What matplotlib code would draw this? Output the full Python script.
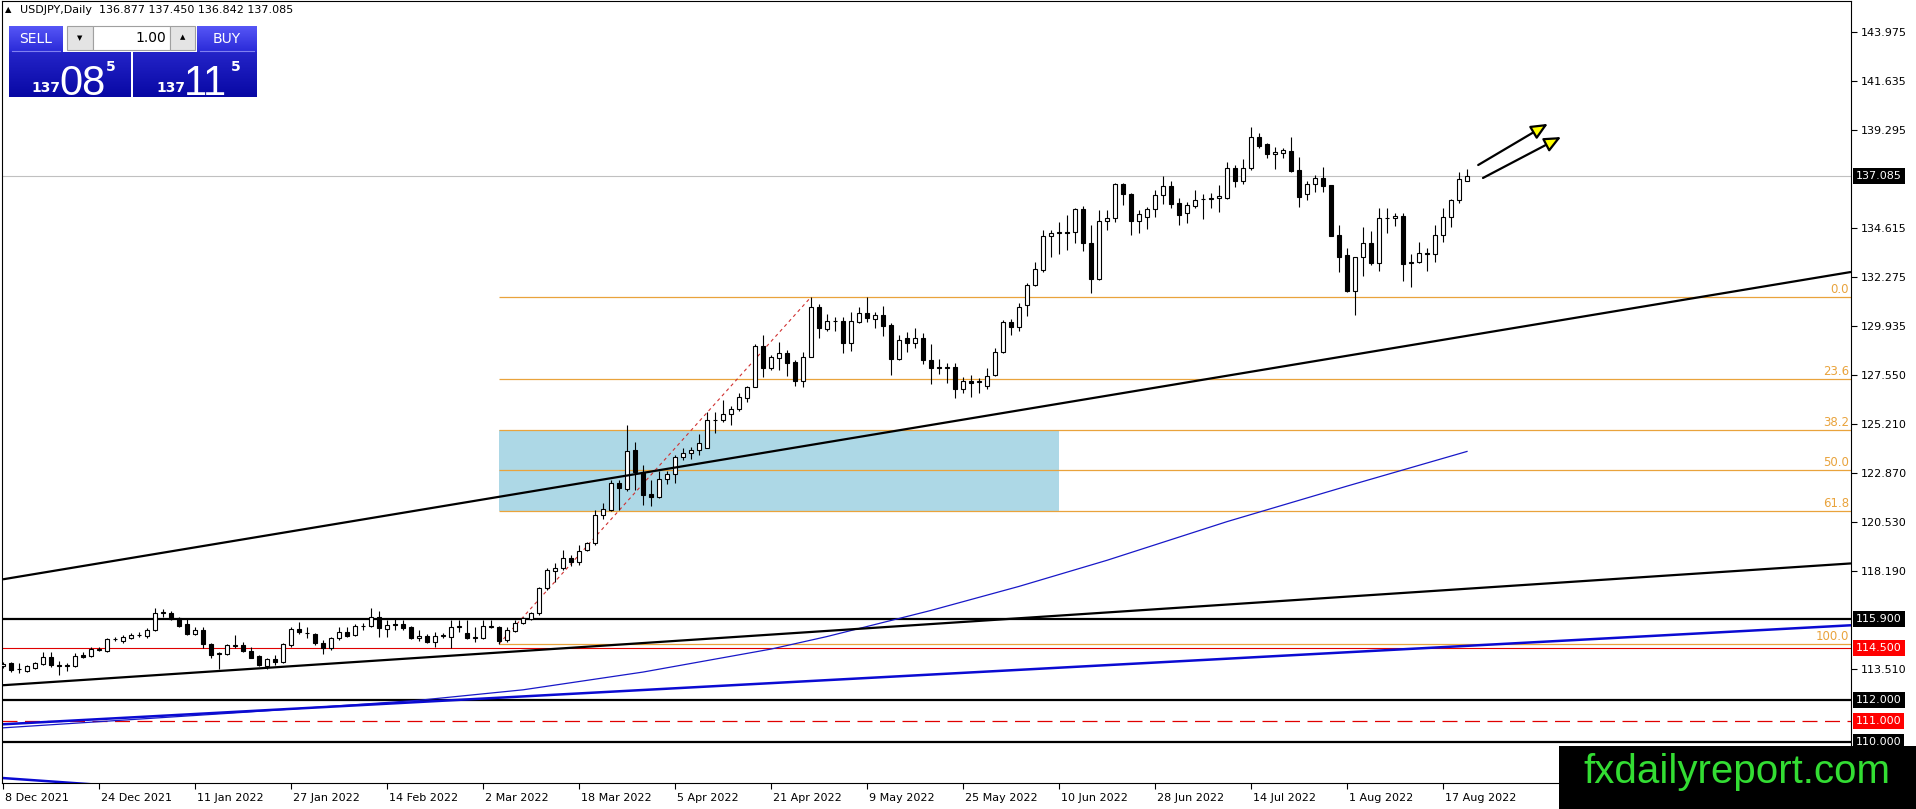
import matplotlib
matplotlib.use("Agg")
import matplotlib.pyplot as plt
import numpy as np
import pandas as pd
from matplotlib.patches import Rectangle, FancyArrowPatch
from matplotlib.transforms import blended_transform_factory, offset_copy, ScaledTranslation
from matplotlib.colors import LinearSegmentedColormap

# ---------------- data ----------------
symbol = "USDJPY,Daily"
start_date = "2021-12-08"

opens = [113.64, 113.77, 113.48, 113.40, 113.56, 113.73, 114.09, 113.69, 113.66, 113.64,
         114.17, 114.13, 114.41, 114.37, 114.92, 114.84, 115.00, 115.12, 115.09, 115.36,
         116.18, 116.16, 115.92, 115.65, 115.17, 115.36, 114.68, 114.20, 114.20, 114.61,
         114.64, 114.36, 114.13, 113.66, 113.97, 113.85, 114.64, 115.41, 115.22, 115.16,
         114.72, 114.49, 115.00, 115.25, 115.12, 115.57, 115.57, 116.00, 115.39, 115.63,
         115.63, 115.52, 114.96, 115.09, 114.77, 115.09, 115.04, 115.52, 115.20, 114.99,
         114.96, 115.52, 115.52, 114.88, 115.33, 115.68, 115.87, 116.16, 117.36, 118.20,
         118.32, 118.83, 118.63, 119.19, 119.51, 120.87, 121.11, 122.42, 122.10, 123.98,
         122.94, 121.86, 121.71, 122.58, 122.83, 123.63, 123.82, 124.00, 124.06, 125.42,
         125.42, 125.69, 125.93, 126.45, 127.01, 128.96, 127.89, 128.37, 128.61, 128.21,
         127.30, 128.45, 130.81, 129.75, 130.17, 130.14, 129.09, 130.12, 130.52, 130.27,
         130.44, 129.96, 128.32, 129.33, 129.09, 129.33, 128.29, 127.93, 127.90, 127.93,
         126.88, 127.30, 127.25, 127.04, 127.57, 128.69, 130.12, 129.88, 130.90, 131.88,
         132.60, 134.24, 134.38, 134.40, 134.43, 135.50, 133.87, 132.15, 134.94, 135.07,
         136.71, 136.25, 134.96, 135.15, 135.50, 136.17, 136.62, 135.79, 135.34, 135.66,
         135.98, 136.00, 136.03, 136.03, 137.46, 136.87, 137.46, 138.98, 138.61, 138.13,
         138.21, 138.29, 137.38, 136.23, 136.71, 136.98, 136.67, 134.27, 133.32, 131.61,
         133.20, 133.87, 132.95, 135.07, 135.07, 135.18, 132.92, 132.99, 133.43, 133.36,
         134.27, 135.12, 135.95, 136.877]
highs = [113.85, 113.85, 113.77, 113.69, 113.85, 114.29, 114.29, 113.88, 113.77, 114.25,
         114.33, 114.57, 114.57, 115.00, 115.04, 115.12, 115.20, 115.25, 115.44, 116.40,
         116.35, 116.27, 115.97, 115.89, 115.52, 115.52, 114.72, 114.29, 114.68, 115.12,
         114.80, 114.57, 114.17, 114.01, 114.17, 114.72, 115.52, 115.73, 115.52, 115.20,
         114.88, 115.04, 115.49, 115.52, 115.63, 115.68, 116.40, 116.27, 115.84, 115.89,
         115.84, 115.57, 115.36, 115.17, 115.28, 115.20, 115.84, 115.84, 115.84, 115.52,
         115.84, 115.84, 115.57, 115.52, 115.84, 116.00, 116.24, 117.44, 118.32, 118.55,
         119.19, 118.95, 119.43, 119.59, 121.11, 121.46, 122.54, 122.54, 125.18, 124.35,
         123.26, 122.54, 122.99, 122.99, 123.74, 124.06, 124.14, 124.75, 125.82, 125.82,
         126.37, 126.09, 126.72, 127.04, 129.05, 129.48, 128.53, 129.17, 128.77, 128.29,
         128.69, 131.30, 130.97, 130.49, 130.36, 130.36, 130.57, 130.84, 131.30, 130.60,
         130.87, 130.04, 129.48, 129.64, 129.80, 129.56, 129.05, 128.32, 128.16, 128.13,
         127.49, 127.57, 127.41, 127.89, 128.88, 130.20, 130.23, 131.00, 131.99, 133.00,
         134.51, 134.51, 134.91, 135.23, 135.55, 135.66, 134.75, 135.47, 135.47, 136.78,
         136.78, 136.27, 135.47, 135.63, 136.43, 137.07, 136.87, 136.03, 135.87, 136.43,
         136.23, 136.27, 136.67, 137.78, 137.62, 137.89, 139.43, 139.17, 138.66, 138.50,
         138.42, 138.98, 137.99, 136.87, 137.14, 137.54, 136.67, 134.75, 133.63, 133.24,
         134.64, 134.48, 135.55, 135.55, 135.31, 135.34, 133.36, 133.95, 133.63, 134.75,
         135.55, 135.98, 137.27, 137.450]
lows = [113.56, 113.37, 113.29, 113.37, 113.50, 113.69, 113.61, 113.21, 113.40, 113.61,
        114.01, 114.09, 114.36, 114.33, 114.84, 114.76, 114.93, 115.01, 114.96, 115.32,
        115.98, 115.84, 115.52, 115.12, 115.12, 114.49, 114.04, 113.50, 114.17, 114.49,
        114.29, 114.01, 113.66, 113.50, 113.69, 113.80, 114.57, 115.16, 114.96, 114.64,
        114.20, 114.41, 114.88, 115.04, 115.09, 115.36, 115.52, 115.04, 115.04, 115.36,
        115.36, 114.93, 114.84, 114.72, 114.57, 114.96, 114.49, 115.25, 114.93, 114.77,
        114.93, 115.44, 114.70, 114.80, 115.28, 115.65, 115.85, 116.08, 117.28, 117.68,
        118.24, 118.43, 118.48, 119.16, 119.43, 120.66, 121.08, 121.11, 122.03, 122.07,
        121.35, 121.30, 121.67, 122.35, 122.39, 123.50, 123.53, 123.74, 124.06, 124.81,
        125.34, 125.16, 125.86, 126.29, 127.01, 127.49, 127.81, 127.81, 127.52, 127.04,
        127.01, 128.42, 129.33, 129.69, 129.69, 128.64, 128.73, 130.07, 130.12, 129.80,
        129.44, 127.57, 128.29, 128.69, 128.85, 128.10, 127.14, 127.62, 127.20, 126.45,
        126.72, 126.53, 126.69, 126.88, 127.52, 128.61, 129.48, 129.69, 130.39, 131.83,
        132.52, 133.23, 133.36, 133.55, 133.87, 133.52, 131.51, 132.12, 134.50, 134.91,
        135.71, 134.27, 134.38, 134.54, 135.15, 135.76, 135.55, 134.75, 134.83, 135.55,
        135.02, 135.55, 135.39, 135.98, 136.55, 136.71, 137.38, 138.42, 137.94, 137.42,
        137.94, 137.30, 135.60, 135.95, 136.35, 136.35, 134.20, 132.52, 131.56, 130.44,
        132.31, 132.83, 132.57, 134.38, 134.70, 132.09, 131.77, 132.92, 132.56, 132.99,
        133.95, 134.67, 135.79, 136.842]
closes = [113.73, 113.45, 113.50, 113.64, 113.77, 114.05, 113.69, 113.66, 113.69, 114.12,
          114.09, 114.45, 114.44, 114.92, 114.93, 115.01, 115.12, 115.13, 115.36, 116.16,
          116.22, 115.89, 115.57, 115.17, 115.36, 114.68, 114.17, 114.25, 114.64, 114.63,
          114.37, 114.04, 113.69, 113.96, 113.85, 114.68, 115.41, 115.25, 115.20, 114.72,
          114.49, 115.00, 115.25, 115.09, 115.57, 115.55, 116.00, 115.44, 115.60, 115.60,
          115.47, 114.96, 115.09, 114.77, 115.09, 115.10, 115.52, 115.53, 114.96, 115.00,
          115.55, 115.53, 114.84, 115.36, 115.71, 115.92, 116.19, 117.36, 118.24, 118.35,
          118.80, 118.63, 119.16, 119.51, 120.87, 121.14, 122.39, 122.15, 123.95, 122.94,
          121.83, 121.71, 122.58, 122.83, 123.63, 123.82, 124.00, 124.30, 125.42, 125.40,
          125.69, 125.93, 126.50, 127.01, 128.96, 127.92, 128.42, 128.61, 128.13, 127.30,
          128.45, 130.81, 129.80, 130.17, 130.15, 129.09, 130.14, 130.52, 130.28, 130.44,
          129.93, 128.32, 129.25, 129.09, 129.33, 128.29, 127.89, 127.90, 127.93, 126.88,
          127.30, 127.17, 127.25, 127.52, 128.69, 130.12, 129.88, 130.81, 131.88, 132.63,
          134.24, 134.35, 134.40, 134.38, 135.50, 133.87, 132.15, 134.94, 135.07, 136.71,
          136.25, 134.96, 135.26, 135.50, 136.17, 136.62, 135.76, 135.23, 135.71, 135.95,
          135.98, 136.02, 136.14, 137.46, 136.87, 137.46, 138.98, 138.53, 138.13, 138.24,
          138.34, 137.35, 136.11, 136.71, 136.98, 136.62, 134.22, 133.24, 131.61, 133.20,
          133.87, 132.95, 135.07, 135.07, 135.18, 132.88, 132.99, 133.43, 133.36, 134.27,
          135.12, 135.95, 136.94, 137.085]

date_labels = ["8 Dec 2021", "24 Dec 2021", "11 Jan 2022", "27 Jan 2022", "14 Feb 2022",
               "2 Mar 2022", "18 Mar 2022", "5 Apr 2022", "21 Apr 2022", "9 May 2022",
               "25 May 2022", "10 Jun 2022", "28 Jun 2022", "14 Jul 2022", "1 Aug 2022",
               "17 Aug 2022"]
price_ticks = [143.975, 141.635, 139.295, 134.615, 132.275, 129.935, 127.550,
               125.210, 122.870, 120.530, 118.190, 113.510]

bid_price = 137.085
ask_price = 137.115
lot_size = "1.00"

# indicator (moving average) read at bar indices
ma_index = [0, 13, 30, 52, 65, 80, 96, 103, 116, 127, 138, 153, 168, 183]
ma_value = [110.68, 111.00, 111.42, 112.00, 112.50, 113.35, 114.45, 115.05, 116.30,
            117.45, 118.70, 120.55, 122.25, 123.91]

# drawn objects
fib_anchor_low = (62, 114.70)
fib_anchor_high = (101, 131.30)
fib_ratios = [0.0, 23.6, 38.2, 50.0, 61.8, 100.0]
box_bars = (62, 132)
black_levels = [115.90, 112.00, 110.00]
red_solid_levels = [114.50]
red_dashed_levels = [111.00]
black_trends = [((0, 117.79), (231, 132.50)), ((0, 112.72), (231, 118.55))]
blue_trends = [((0, 110.85), (231, 115.59)), ((-0.125, 108.28), (11, 107.98))]
arrows = [((184.4, 137.62), (193.1, 139.59)), ((185.0, 137.00), (194.75, 138.96))]

# ---------------- figure ----------------
W, H = 1916, 809
fig = plt.figure(figsize=(W / 100, H / 100), dpi=100, facecolor="white")
ax = fig.add_axes([2 / W, (H - 783) / H, (1851 - 2) / W, (783 - 1) / H])
ax.set_xlim(-0.125, 231)
ax.set_ylim(108.04, 145.47)
ax.set_facecolor("white")

n = len(opens)
xi = np.arange(n)
o = np.array(opens); h = np.array(highs); l = np.array(lows); c = np.array(closes)

fibc = "#E9A33C"
fib_hi, fib_lo = fib_anchor_high[1], fib_anchor_low[1]
fib_levels = [fib_hi - r / 100.0 * (fib_hi - fib_lo) for r in fib_ratios]

# background box
ax.add_patch(Rectangle((box_bars[0], fib_levels[4]), box_bars[1] - box_bars[0],
                       fib_levels[2] - fib_levels[4], fc="#ADD8E6", ec="none", zorder=0.5))

# current price line
ax.axhline(bid_price, color="#C0C0C0", lw=0.8, zorder=1)

# fib lines + labels
ax.hlines(fib_levels, fib_anchor_low[0], 231, color=fibc, lw=0.9, zorder=2)
ax.plot([fib_anchor_low[0], fib_anchor_high[0]], [fib_anchor_low[1], fib_anchor_high[1]],
        color="#D03030", lw=0.8, ls=(0, (3, 3)), zorder=2.5)
tr_r = offset_copy(blended_transform_factory(ax.transAxes, ax.transData), fig=fig,
                   x=-2, y=1, units="dots")
for r, lv in zip(fib_ratios, fib_levels):
    ax.text(1.0, lv, f"{r:.1f}", transform=tr_r, ha="right", va="bottom",
            color=fibc, fontsize=8.5, zorder=6)

# horizontal levels
for lv in black_levels:
    ax.axhline(lv, color="black", lw=1.6, zorder=2)
for lv in red_solid_levels:
    ax.axhline(lv, color="#E00000", lw=0.8, zorder=2)
for lv in red_dashed_levels:
    ax.axhline(lv, color="#E00000", lw=0.9, ls=(0, (12, 6)), zorder=2)

# moving average
ax.plot(ma_index, ma_value, color="#1818C8", lw=0.9, zorder=2.2)

# trend lines
for (p0, p1) in black_trends:
    ax.plot([p0[0], p1[0]], [p0[1], p1[1]], color="black", lw=1.6, zorder=5,
            solid_capstyle="butt")
for (p0, p1) in blue_trends:
    ax.plot([p0[0], p1[0]], [p0[1], p1[1]], color="#0A0AD2", lw=1.8, zorder=2.3,
            solid_capstyle="butt")

# candles
ax.vlines(xi, l, h, color="black", lw=0.8, zorder=3)
body_bot = np.minimum(o, c)
body_h = np.maximum(np.abs(c - o), 0.015)
ax.bar(xi, body_h, bottom=body_bot, width=0.55,
       color=np.where(c >= o, "white", "black"), edgecolor="black", linewidth=0.8, zorder=4)

# arrows
for (p0, p1) in arrows:
    ax.add_patch(FancyArrowPatch(p0, p1, arrowstyle="-|>,head_length=1.0,head_width=0.45",
                                 mutation_scale=10, fc="#FFFF00", ec="black", lw=1.6,
                                 shrinkA=0, shrinkB=0, zorder=6))

# axes styling
for sp in ax.spines.values():
    sp.set_color("black"); sp.set_linewidth(0.8)
ax.yaxis.tick_right()
ax.set_yticks(price_ticks)
ax.set_yticklabels([f"{v:.3f}" for v in price_ticks])
ax.tick_params(axis="y", direction="out", length=4, pad=3, labelsize=8, colors="black")

dates = pd.bdate_range(start_date, periods=n)
tick_pos = [int(np.where(dates == pd.to_datetime(s, format="%d %b %Y"))[0][0]) for s in date_labels]
ax.set_xticks(tick_pos)
ax.set_xticklabels(date_labels, ha="left")
ax.tick_params(axis="x", direction="out", length=4, pad=3, labelsize=8, colors="black")
for lab in ax.get_xticklabels():
    lab.set_transform(lab.get_transform() + ScaledTranslation(2 / 100, 0, fig.dpi_scale_trans))

# price labels with backgrounds
tr_lab = offset_copy(blended_transform_factory(ax.transAxes, ax.transData), fig=fig,
                     x=5, y=0, units="dots")
special = [(bid_price, "black"), (115.900, "black"), (114.500, "#FF0000"),
           (112.000, "black"), (111.000, "#FF0000"), (110.000, "black")]
for val, bg in special:
    ax.text(1.0, val, f"{val:.3f}", transform=tr_lab, ha="left", va="center",
            color="white", fontsize=8, clip_on=False, zorder=7,
            bbox=dict(boxstyle="square,pad=0.25", fc=bg, ec="none"))

# ---------------- overlay (terminal widgets, watermark) ----------------
ov = fig.add_axes([0, 0, 1, 1], zorder=10)
ov.patch.set_alpha(0)
ov.axis("off")


def grad(x0, x1, y0, y1, ctop, cbot):
    cm = LinearSegmentedColormap.from_list("g", [ctop, cbot])
    ov.imshow(np.linspace(0, 1, 64).reshape(-1, 1), extent=(x0, x1, y1, y0), cmap=cm,
              aspect="auto", origin="upper", interpolation="bilinear", zorder=1)


grad(9, 63, 26, 52, "#5656F6", "#2A2AD8")
grad(197, 257, 26, 52, "#5656F6", "#2A2AD8")
grad(9, 131, 52, 97, "#2424C8", "#0808A4")
grad(133, 257, 52, 97, "#2424C8", "#0808A4")
ov.plot([12, 60], [51, 51], color="#8080F0", lw=0.8, zorder=2)
ov.plot([200, 254], [51, 51], color="#8080F0", lw=0.8, zorder=2)
# lot box
ov.add_patch(Rectangle((67, 26), 26, 24, fc="#E4E4E4", ec="#A0A0A0", lw=0.8, zorder=2))
ov.add_patch(Rectangle((93, 26), 77, 24, fc="white", ec="#A0A0A0", lw=0.8, zorder=2))
ov.add_patch(Rectangle((170, 26), 25, 24, fc="#E4E4E4", ec="#A0A0A0", lw=0.8, zorder=2))
ov.text(80, 38, "▼", fontsize=5, ha="center", va="center", color="black", zorder=3)
ov.text(182.5, 37, "▲", fontsize=5, ha="center", va="center", color="black", zorder=3)
ov.text(166, 38, lot_size, fontsize=10, ha="right", va="center", color="black", zorder=3)
ov.text(36, 39, "SELL", fontsize=10, ha="center", va="center", color="white", zorder=3)
ov.text(227, 39, "BUY", fontsize=10, ha="center", va="center", color="white", zorder=3)


def price_parts(p):
    s = f"{p:.3f}"
    big, frac = s.split(".")
    return big, frac[:2], frac[2]


for px0, p in [(31, bid_price), (156, ask_price)]:
    a, b, d = price_parts(p)
    ov.text(px0, 92, a, fontsize=10, fontweight="bold", ha="left", va="baseline",
            color="white", zorder=3)
    ov.text(px0 + 28, 95, b, fontsize=30, family="Liberation Sans", ha="left",
            va="baseline", color="white", zorder=3)
    ov.text(px0 + 75, 71, d, fontsize=10, fontweight="bold", ha="left", va="baseline",
            color="white", zorder=3)

# header
ov.text(5, 10, "▲", fontsize=6, ha="left", va="center", color="black", zorder=3)
ov.text(20, 10, f"{symbol}  {opens[-1]:.3f} {highs[-1]:.3f} {lows[-1]:.3f} {closes[-1]:.3f}",
        fontsize=8, ha="left", va="center", color="black", zorder=3)

# watermark
ov.add_patch(Rectangle((1559, 746), 357, 63, fc="black", ec="none", zorder=4))
ov.text(1737, 772, "fxdailyreport.com", fontsize=29, family="Liberation Sans",
        ha="center", va="center", color="#33DD33", zorder=5)

ov.set_xlim(0, W)
ov.set_ylim(H, 0)

fig.savefig("out.png", dpi=100, facecolor="white")
